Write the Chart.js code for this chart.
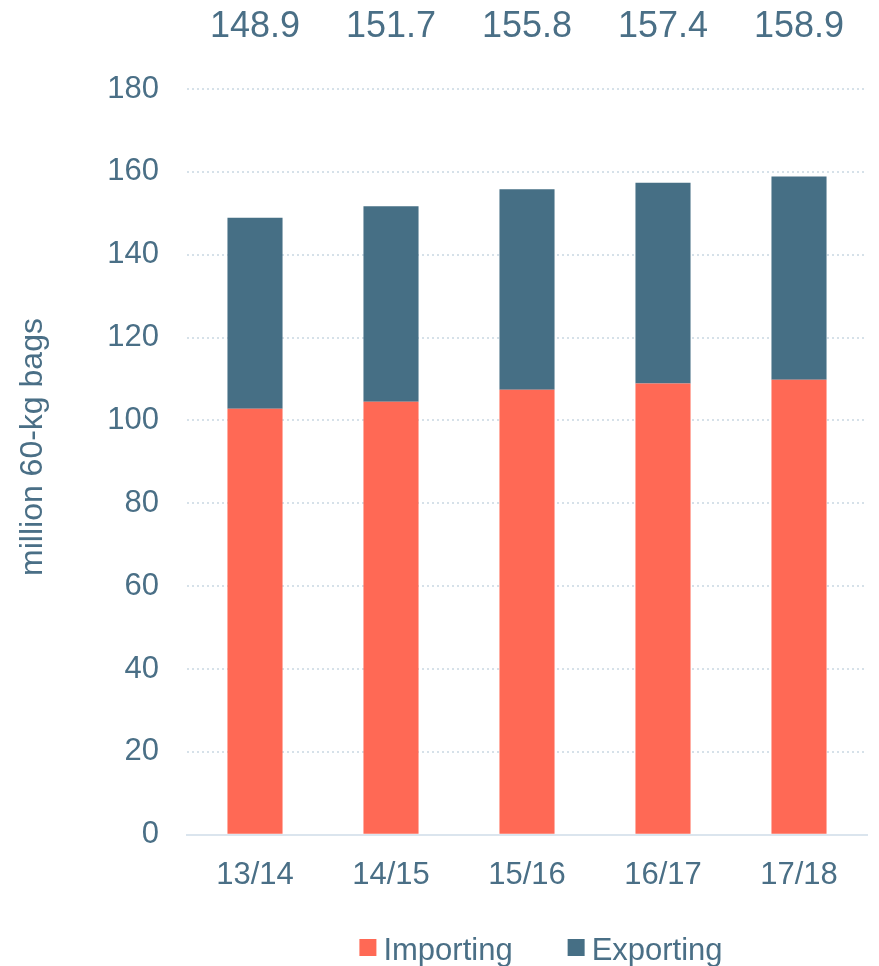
<!DOCTYPE html>
<html>
<head>
<meta charset="utf-8">
<script src="https://cdn.jsdelivr.net/npm/chart.js@4.4.0/dist/chart.umd.min.js"></script>
<style>
html, body { margin: 0; padding: 0; background: #fff; }
</style>
</head>
<body>
<canvas id="bagsChart" width="879" height="966"></canvas>
<script>
const seasons = ['13/14', '14/15', '15/16', '16/17', '17/18'];
const importing = [102.8, 104.5, 107.4, 108.9, 109.8];
const exporting = [46.1, 47.2, 48.4, 48.5, 49.1];
const totals = ['148.9', '151.7', '155.8', '157.4', '158.9'];
const yTitle = 'million 60-kg bags';

const textColor = '#4a6f86';
const fontFamily = '"Liberation Sans", Arial, sans-serif';

Chart.defaults.font.family = fontFamily;
Chart.defaults.color = textColor;

// totals above the bars, the y title and a hand-drawn legend (tighter spacing than the built-in one)
const extras = {
    id: 'extras',
    afterDraw(chart) {
        const ctx = chart.ctx;
        const xs = chart.scales.x;
        ctx.save();
        ctx.fillStyle = textColor;
        ctx.font = '36px ' + fontFamily;
        ctx.textAlign = 'center';
        ctx.textBaseline = 'alphabetic';
        totals.forEach((t, i) => ctx.fillText(t, xs.getPixelForValue(i), 37));

        ctx.save();
        ctx.translate(42, 447);
        ctx.rotate(-Math.PI / 2);
        ctx.font = '32px ' + fontFamily;
        ctx.fillText(yTitle, 0, 0);
        ctx.restore();

        ctx.font = '31px ' + fontFamily;
        ctx.textAlign = 'left';
        const items = chart.data.datasets.map(ds => ({
            label: ds.label, color: ds.backgroundColor, w: ctx.measureText(ds.label).width
        }));
        const box = 17, gap = 7, space = 55;
        const total = items.reduce((s, it) => s + box + gap + it.w, 0) + space * (items.length - 1);
        let lx = 541 - total / 2;
        items.forEach(it => {
            ctx.fillStyle = it.color;
            ctx.fillRect(lx, 939, box, box);
            ctx.fillStyle = textColor;
            ctx.fillText(it.label, lx + box + gap, 960);
            lx += box + gap + it.w + space;
        });
        ctx.restore();
    }
};

new Chart(document.getElementById('bagsChart').getContext('2d'), {
    type: 'bar',
    data: {
        labels: seasons,
        datasets: [
            { label: 'Importing', data: importing, backgroundColor: '#ff6955', categoryPercentage: 1, barPercentage: 0.405 },
            { label: 'Exporting', data: exporting, backgroundColor: '#466f85', categoryPercentage: 1, barPercentage: 0.405 }
        ]
    },
    options: {
        responsive: false, devicePixelRatio: 1, animation: false,
        layout: { padding: { top: 89, right: 12, bottom: 58, left: 0 } },
        plugins: { legend: { display: false }, tooltip: { enabled: false } },
        scales: {
            x: {
                stacked: true,
                grid: { display: false },
                border: { display: true, color: '#dbe5ee', width: 2 },
                ticks: { color: textColor, font: { size: 31 }, padding: 14 }
            },
            y: {
                stacked: true, min: 0, max: 180,
                afterFit(scale) { scale.width = 187; },
                grid: {
                    color: c => c.tick && c.tick.value === 0 ? 'rgba(0,0,0,0)' : '#d6e1e9',
                    lineWidth: 2, drawTicks: false
                },
                border: { display: false, dash: [2, 3] },
                ticks: { stepSize: 20, color: textColor, font: { size: 31 }, padding: 28 }
            }
        }
    },
    plugins: [extras]
});
</script>
</body>
</html>
